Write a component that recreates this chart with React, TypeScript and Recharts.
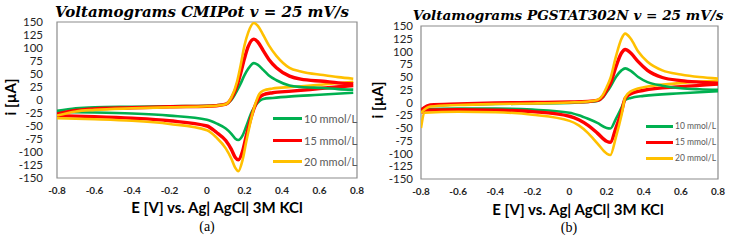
import React from "react";
import { Legend, Line, LineChart, ReferenceArea, XAxis, YAxis } from "recharts";

const currentTicks = [-150, -125, -100, -75, -50, -25, 0, 25, 50, 75, 100, 125, 150];
const potentialTicks = [-0.8, -0.6, -0.4, -0.2, 0, 0.2, 0.4, 0.6, 0.8];
const seriesNames = ["10 mmol/L", "15 mmol/L", "20 mmol/L"];
const seriesColors = ["#00b050", "#ff0000", "#ffc000"];
const seriesWidths = [2.6, 3.4, 2.6];

// (a) CMIPot — forward (anodic) scan
const cmiFwdE = [-0.8, -0.7, -0.6, -0.4, -0.2, 0, 0.05, 0.1, 0.13, 0.16, 0.18, 0.2, 0.22, 0.25, 0.27, 0.3, 0.33, 0.37, 0.44, 0.5, 0.62, 0.7, 0.78];
const cmiFwd10 = [-21, -16, -14, -13, -12, -11, -10, -8, 0, 18, 32, 48, 60, 71, 68, 58, 47, 38, 28, 25, 23, 21, 20];
const cmiFwd15 = [-27, -20, -17, -15, -13, -12, -11, -8, 3, 28, 52, 80, 103, 117, 112, 95, 78, 62, 46, 40, 36, 33, 31];
const cmiFwd20 = [-30, -22, -19, -16, -14, -12, -11, -8, 5, 35, 68, 105, 130, 148, 143, 125, 105, 85, 62, 55, 48, 44, 41];
// (a) CMIPot — reverse (cathodic) scan
const cmiRevE = [-0.8, -0.6, -0.4, -0.2, 0, 0.05, 0.1, 0.13, 0.15, 0.167, 0.19, 0.21, 0.24, 0.26, 0.28, 0.3, 0.35, 0.45, 0.6, 0.78];
const cmiRev10 = [-23, -24, -26, -30, -38, -45, -55, -65, -74, -77, -68, -50, -22, -10, -2, 2, 4, 7, 10, 14];
const cmiRev15 = [-30, -32, -35, -40, -50, -62, -78, -95, -110, -115, -98, -68, -28, -8, 5, 10, 14, 17, 22, 28];
const cmiRev20 = [-35, -37, -40, -46, -58, -72, -93, -113, -130, -137, -115, -79, -30, -5, 12, 18, 22, 25, 29, 35];

// (b) PGSTAT302N — forward (anodic) scan
const pgFwdE = [-0.8, -0.75, -0.6, -0.4, -0.2, 0, 0.1, 0.15, 0.18, 0.2, 0.22, 0.25, 0.28, 0.3, 0.33, 0.37, 0.42, 0.5, 0.6, 0.7, 0.8];
const pgFwd10 = [-14, -6, -4, -3, -2, -1, 1, 3, 10, 20, 31, 50, 63, 67, 62, 50, 40, 33, 28, 26, 25];
const pgFwd15 = [-15, -5, -3, -1, 0, 1, 2, 4, 12, 24, 37, 70, 97, 104, 97, 80, 63, 49, 43, 40, 38];
const pgFwd20 = [-20, -8, -5, -3, -2, 0, 2, 5, 15, 30, 47, 90, 125, 135, 125, 100, 80, 63, 55, 50, 47];
// (b) PGSTAT302N — reverse (cathodic) scan
const pgRevE = [-0.8, -0.78, -0.6, -0.4, -0.2, 0, 0.05, 0.1, 0.15, 0.2, 0.22, 0.25, 0.28, 0.3, 0.33, 0.4, 0.6, 0.8];
const pgRev10 = [-15, -13, -12, -12, -14, -20, -25, -32, -40, -50, -51, -32, -10, 5, 9, 13, 18, 22];
const pgRev15 = [-20, -15, -14, -15, -18, -27, -34, -45, -60, -76, -78, -50, -18, 8, 17, 24, 31, 36];
const pgRev20 = [-50, -20, -18, -19, -24, -36, -45, -60, -80, -100, -103, -68, -25, 10, 22, 30, 38, 43];

const pts = (e: number[], i: number[]) => e.map((x, k) => ({ e: x, i: i[k] }));

const tickFont = "Lato, 'Open Sans', sans-serif";

function LegendBox({ payload, fontSize, lineW, rowH }: any) {
  const items = (payload || []).filter((p: any) => seriesNames.includes(p.value));
  return (
    <div>
      {items.map((p: any) => (
        <div key={p.value} style={{ display: "flex", alignItems: "center", height: rowH }}>
          <div style={{ width: lineW, height: 3, background: p.color, marginRight: 2 }} />
          <span style={{ fontFamily: tickFont, fontSize, color: "#595959", whiteSpace: "nowrap" }}>{p.value}</span>
        </div>
      ))}
    </div>
  );
}

type PanelProps = {
  left: number;
  width: number;
  margin: { top: number; right: number; bottom: number; left: number };
  yWidth: number;
  yFont: number;
  yGap: number;
  fwdE: number[];
  revE: number[];
  fwd: number[][];
  rev: number[][];
  legendPos: { left: number; top: number };
  legendFont: number;
  legendLine: number;
  legendRow: number;
};

function Panel(p: PanelProps) {
  return (
    <div style={{ position: "absolute", left: p.left, top: 0 }}>
      <LineChart width={p.width} height={241} margin={p.margin}>
        <XAxis
          type="number"
          dataKey="e"
          domain={[-0.8, 0.8]}
          ticks={potentialTicks}
          interval={0}
          allowDataOverflow
          axisLine={false}
          tickLine={false}
          tickSize={0}
          tickMargin={9}
          height={30}
          tickFormatter={(v: number) => (v === 0 ? "0" : v.toFixed(1))}
          tick={{ fontSize: 10, fontWeight: 700, fill: "#262626", fontFamily: tickFont }}
        />
        <YAxis
          type="number"
          dataKey="i"
          domain={[-150, 150]}
          ticks={currentTicks}
          interval={0}
          allowDataOverflow
          axisLine={false}
          tickLine={false}
          tickSize={0}
          tickMargin={p.yGap}
          width={p.yWidth}
          tick={{ fontSize: p.yFont, fill: "#262626", fontFamily: tickFont }}
        />
        <ReferenceArea x1={-0.8} x2={0.8} y1={-150} y2={150} fill="none" stroke="#8c8c8c" strokeWidth={1.2} ifOverflow="visible" />
        {seriesNames.map((name, k) => (
          <Line
            key={"r" + k}
            data={pts(p.revE, p.rev[k])}
            dataKey="i"
            type="monotone"
            stroke={seriesColors[k]}
            strokeWidth={seriesWidths[k]}
            dot={false}
            legendType="none"
            isAnimationActive={false}
          />
        ))}
        {seriesNames.map((name, k) => (
          <Line
            key={"f" + k}
            name={name}
            data={pts(p.fwdE, p.fwd[k])}
            dataKey="i"
            type="monotone"
            stroke={seriesColors[k]}
            strokeWidth={seriesWidths[k]}
            dot={false}
            isAnimationActive={false}
          />
        ))}
        <Legend
          layout="vertical"
          align="center"
          verticalAlign="middle"
          wrapperStyle={{ left: p.legendPos.left, top: p.legendPos.top, width: "auto" }}
          content={(props: any) => (
            <LegendBox payload={props.payload} fontSize={p.legendFont} lineW={p.legendLine} rowH={p.legendRow} />
          )}
        />
      </LineChart>
    </div>
  );
}

function Label({ x, y, children, style, rotate }: any) {
  return (
    <div
      style={{
        position: "absolute",
        left: x,
        top: y,
        transform: `translate(-50%, -50%)${rotate ? " rotate(-90deg)" : ""}`,
        whiteSpace: "nowrap",
        ...style,
      }}
    >
      {children}
    </div>
  );
}

const titleStyle = { fontFamily: "'DejaVu Serif', serif", fontWeight: 700, fontStyle: "italic", fontSize: 15, color: "#000" };
const axisTitleStyle = { fontFamily: tickFont, fontWeight: 700, fontSize: 15, color: "#000" };
const captionStyle = { fontFamily: "'Liberation Serif', serif", fontSize: 14, color: "#000" };

export default function App() {
  return (
    <div style={{ position: "absolute", left: 0, top: 0, width: 735, height: 241, background: "#fff", overflow: "hidden" }}>
      <Panel
        left={0}
        width={370}
        margin={{ top: 22, right: 13, bottom: 33, left: 0 }}
        yWidth={57}
        yFont={11.5}
        yGap={14}
        fwdE={cmiFwdE}
        revE={cmiRevE}
        fwd={[cmiFwd10, cmiFwd15, cmiFwd20]}
        rev={[cmiRev10, cmiRev15, cmiRev20]}
        legendPos={{ left: 273, top: 108 }}
        legendFont={11}
        legendLine={29}
        legendRow={21.5}
      />
      <Panel
        left={365}
        width={370}
        margin={{ top: 26, right: 17, bottom: 32, left: 0 }}
        yWidth={56}
        yFont={11.5}
        yGap={8}
        fwdE={pgFwdE}
        revE={pgRevE}
        fwd={[pgFwd10, pgFwd15, pgFwd20]}
        rev={[pgRev10, pgRev15, pgRev20]}
        legendPos={{ left: 281, top: 118 }}
        legendFont={8.5}
        legendLine={27}
        legendRow={16}
      />
      <Label x={202} y={12} style={titleStyle}>Voltamograms CMIPot v = 25 mV/s</Label>
      <Label x={568} y={15} style={{ ...titleStyle, fontSize: 13.6 }}>Voltamograms PGSTAT302N v = 25 mV/s</Label>
      <Label x={10} y={97} rotate style={axisTitleStyle}>i [µA]</Label>
      <Label x={377} y={100} rotate style={axisTitleStyle}>i [µA]</Label>
      <Label x={217} y={207} style={axisTitleStyle}>E [V] vs. Ag| AgCl| 3M KCl</Label>
      <Label x={578} y={209} style={axisTitleStyle}>E [V] vs. Ag| AgCl| 3M KCl</Label>
      <Label x={207} y={227} style={captionStyle}>(a)</Label>
      <Label x={569} y={228} style={captionStyle}>(b)</Label>
    </div>
  );
}
